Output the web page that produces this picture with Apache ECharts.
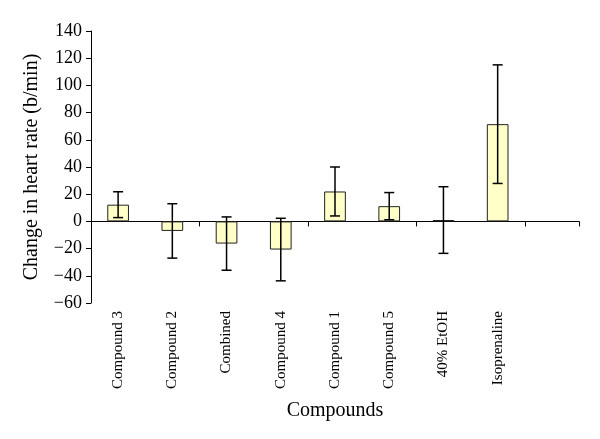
<!DOCTYPE html>
<html><head><meta charset="utf-8">
<script src="https://cdn.jsdelivr.net/npm/echarts@6/dist/echarts.min.js"></script>
<style>html,body{margin:0;padding:0;background:#fff}#c{width:600px;height:439px}</style>
</head><body><div id="c"></div>
<script>
var categories = ['Compound 3','Compound 2','Combined','Compound 4','Compound 1','Compound 5','40% EtOH','Isoprenaline',''];
var means = [12.3, -7, -16.3, -20.7, 22, 11.2, 1, 71.5, null];
var errors = [9.5, 20, 19.6, 23, 18, 10, 24.5, 43.6, null];
var yTicks = {min: -60, max: 140, interval: 20};

var font = '"Liberation Serif", "DejaVu Serif", serif';
var chart = echarts.init(document.getElementById('c'));
var errData = [];
for (var i = 0; i < categories.length; i++) {
  if (means[i] !== null) errData.push([i, means[i] - errors[i], means[i] + errors[i]]);
}
chart.setOption({
  animation: false,
  grid: {left: 91, right: 21, top: 31, bottom: 136},
  xAxis: [{
    type: 'category', data: categories, position: 'bottom',
    axisLine: {onZero: true, lineStyle: {color: '#000', width: 1}},
    axisTick: {show: true, inside: false, length: 5, lineStyle: {color: '#000'}},
    axisLabel: {show: false}
  }, {
    type: 'category', data: categories, position: 'bottom',
    axisLine: {show: false, onZero: false}, axisTick: {show: false},
    axisLabel: {rotate: 90, margin: 8, fontFamily: font, fontSize: 15, color: '#000'},
    name: 'Compounds', nameLocation: 'middle', nameGap: 98,
    nameTextStyle: {fontFamily: font, fontSize: 20, color: '#000'}
  }],
  yAxis: {
    type: 'value', min: yTicks.min, max: yTicks.max, interval: yTicks.interval,
    axisLine: {show: true, lineStyle: {color: '#000'}},
    axisTick: {show: true, length: 5, lineStyle: {color: '#000'}},
    splitLine: {show: false},
    axisLabel: {fontFamily: font, fontSize: 18, color: '#000', margin: 9,
      formatter: function (v) { return String(v).replace('-', '\u2212'); }},
    name: 'Change in heart rate (b/min)', nameLocation: 'middle', nameGap: 49,
    nameTextStyle: {fontFamily: font, fontSize: 20, color: '#000'}
  },
  series: [{
    type: 'bar', data: means, barWidth: '40%', xAxisIndex: 0,
    itemStyle: {color: '#ffffc8', borderColor: '#222', borderWidth: 1}
  }, {
    type: 'custom', xAxisIndex: 0, data: errData, z: 10,
    renderItem: function (params, api) {
      var x = api.value(0);
      var lo = api.coord([x, api.value(1)]);
      var hi = api.coord([x, api.value(2)]);
      var hw = 5;
      var st = {stroke: '#000', lineWidth: 1.5};
      return {type: 'group', children: [
        {type: 'line', shape: {x1: lo[0], y1: lo[1], x2: hi[0], y2: hi[1]}, style: st},
        {type: 'line', shape: {x1: lo[0] - hw, y1: lo[1], x2: lo[0] + hw, y2: lo[1]}, style: st},
        {type: 'line', shape: {x1: hi[0] - hw, y1: hi[1], x2: hi[0] + hw, y2: hi[1]}, style: st}
      ]};
    }
  }]
});
</script></body></html>
